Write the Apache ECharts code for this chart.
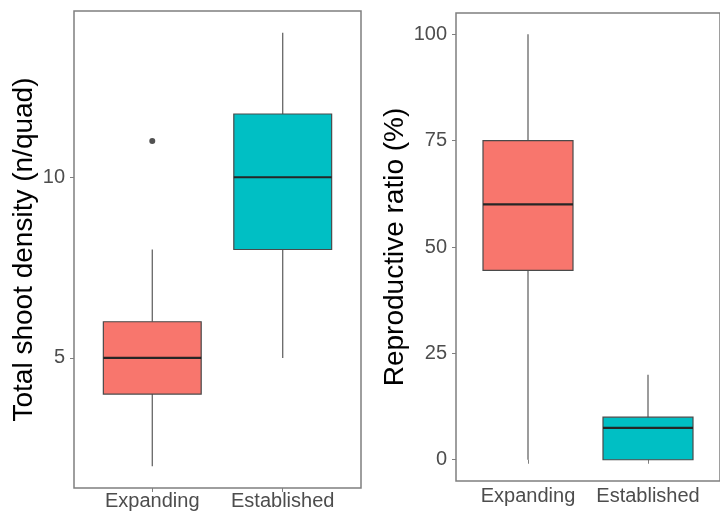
<!DOCTYPE html>
<html>
<head>
<meta charset="utf-8">
<script src="https://cdn.jsdelivr.net/npm/echarts@6/dist/echarts.min.js"></script>
<style>
  html, body { margin: 0; padding: 0; background: #fff; }
  #chart { width: 720px; height: 515px; }
</style>
</head>
<body>
<div id="chart"></div>
<script>
// groups on the x axis
const groups = ['Expanding', 'Established']
// box stats per group: [lower whisker, Q1, median, Q3, upper whisker]
const shootStats = [[2, 4, 5, 6, 8], [5, 8, 10, 11.75, 14]]
const shootOutliers = [[1, 11]]
const reproStats = [[0, 44.5, 60, 75, 100], [0, 0, 7.5, 10, 20]]
// tick labels
const shootTicks = [5, 10]
const reproTicks = [0, 25, 50, 75, 100]
const fills = ['#F8766D', '#00BFC4']

const font = 'Liberation Sans, Arial, sans-serif'

// one box per data item: [x, lo, q1, med, q3, hi]
function renderBox(params, api) {
  const x = api.value(0)
  const lo = api.coord([x, api.value(1)])
  const q1 = api.coord([x, api.value(2)])
  const med = api.coord([x, api.value(3)])
  const q3 = api.coord([x, api.value(4)])
  const hi = api.coord([x, api.value(5)])
  const half = api.size([0.75, 0])[0] / 2
  const cx = med[0]
  const whisker = { stroke: '#5a5a5a', lineWidth: 1.2 }
  return {
    type: 'group',
    children: [
      { type: 'line', shape: { x1: cx, y1: lo[1], x2: cx, y2: q1[1] }, style: whisker },
      { type: 'line', shape: { x1: cx, y1: q3[1], x2: cx, y2: hi[1] }, style: whisker },
      {
        type: 'rect',
        shape: { x: cx - half, y: q3[1], width: half * 2, height: q1[1] - q3[1] },
        style: { fill: fills[params.dataIndex], stroke: '#4a4a4a', lineWidth: 1.2 }
      },
      {
        type: 'line',
        shape: { x1: cx - half, y1: med[1], x2: cx + half, y2: med[1] },
        style: { stroke: '#262626', lineWidth: 2.2 }
      }
    ]
  }
}

function xAxis(gridIndex, margin) {
  return {
    type: 'value',
    gridIndex: gridIndex,
    min: 0.4,
    max: 2.6,
    axisLine: { show: false },
    splitLine: { show: false },
    axisTick: { show: true, length: 4, customValues: [1, 2], lineStyle: { color: '#7f7f7f' } },
    axisLabel: {
      customValues: [1, 2],
      formatter: v => groups[Math.round(v) - 1],
      color: '#4d4d4d',
      fontSize: 20,
      fontFamily: font,
      margin: margin
    }
  }
}

function yAxis(gridIndex, min, max, ticks, name, nameGap) {
  return {
    type: 'value',
    gridIndex: gridIndex,
    min: min,
    max: max,
    name: name,
    nameLocation: 'middle',
    nameGap: nameGap,
    nameTextStyle: { color: '#000', fontSize: 28, fontFamily: font },
    axisLine: { show: false },
    splitLine: { show: false },
    axisTick: { show: true, length: 4, customValues: ticks, lineStyle: { color: '#7f7f7f' } },
    axisLabel: { customValues: ticks, color: '#4d4d4d', fontSize: 20, fontFamily: font, margin: 9 }
  }
}

const chart = echarts.init(document.getElementById('chart'))
chart.setOption({
  animation: false,
  grid: [
    { left: 74, top: 11, right: 359, bottom: 27, show: true, borderColor: '#7f7f7f', borderWidth: 1.5 },
    { left: 456, top: 13, right: -5, bottom: 34, show: true, borderColor: '#7f7f7f', borderWidth: 1.5 }
  ],
  xAxis: [xAxis(0, 3), xAxis(1, 5)],
  yAxis: [
    yAxis(0, 1.4, 14.6, shootTicks, 'Total shoot density (n/quad)', 36),
    yAxis(1, -5, 105, reproTicks, 'Reproductive ratio (%)', 47)
  ],
  series: [
    {
      type: 'custom',
      xAxisIndex: 0,
      yAxisIndex: 0,
      renderItem: renderBox,
      encode: { x: 0, y: [1, 2, 3, 4, 5] },
      data: shootStats.map((s, i) => [i + 1].concat(s))
    },
    {
      type: 'scatter',
      xAxisIndex: 0,
      yAxisIndex: 0,
      symbolSize: 6,
      itemStyle: { color: '#262626' },
      data: shootOutliers
    },
    {
      type: 'custom',
      xAxisIndex: 1,
      yAxisIndex: 1,
      renderItem: renderBox,
      encode: { x: 0, y: [1, 2, 3, 4, 5] },
      data: reproStats.map((s, i) => [i + 1].concat(s))
    }
  ]
})
</script>
</body>
</html>
